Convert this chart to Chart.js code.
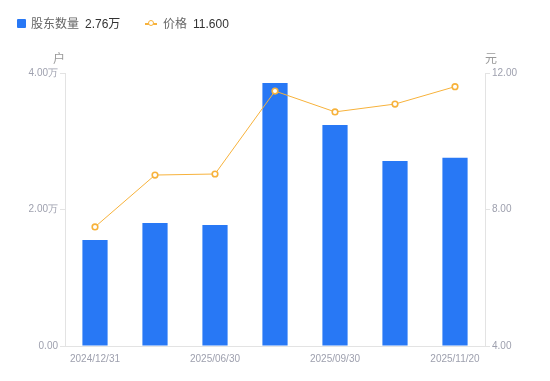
<!DOCTYPE html>
<html>
<head>
<meta charset="utf-8">
<script src="https://cdn.jsdelivr.net/npm/chart.js@4/dist/chart.umd.min.js"></script>
<style>
  body { margin: 0; background: #fff; font-family: "Liberation Sans", Arial, "Noto Sans CJK SC", sans-serif; }
  #wrap { position: relative; width: 550px; height: 381px; }
  #legend { position: absolute; left: 17px; top: 16px; font-size: 12px; color: #666; white-space: nowrap; }
  .item { position: absolute; top: 0; line-height: 17px; }
  .val { color: #333; margin-left: 6px; }
  .unit { position: absolute; font-size: 12px; color: #999; }
</style>
</head>
<body>
<div id="wrap">
  <canvas id="myChart" width="550" height="381"></canvas>
  <div id="legend"></div>
  <div class="unit" style="left:53px; top:49px;">户</div>
  <div class="unit" style="left:485px; top:49px;">元</div>
</div>
<script>
"use strict";

// 데이터
const dates = ['2024/12/31', '2025/03/31', '2025/06/30', '2025/08/20', '2025/09/30', '2025/10/31', '2025/11/20'];
const holders = [15530, 18020, 17730, 38530, 32380, 27110, 27600]; // 股东数量 (户)
const prices = [7.49, 9.01, 9.04, 11.47, 10.86, 11.09, 11.60];     // 价格 (元)
const leftTicks = [0, 20000, 40000];
const rightTicks = [4, 8, 12];

const barColor = '#2878f5';
const lineColor = '#f7b23b';
const tickColor = '#9ea0ae';
const axisColor = '#e3e3e3';

// 범례 (html)
function legend() {
  const last = holders.length - 1;
  document.getElementById('legend').innerHTML =
    '<div class="item" style="left:0">' +
      '<span style="display:inline-block;width:9px;height:9px;background:' + barColor + ';border-radius:1px;margin-right:5px;vertical-align:-0px"></span>' +
      '股东数量<span class="val">' + (holders[last] / 10000).toFixed(2) + '万</span></div>' +
    '<div class="item" style="left:128px">' +
      '<span style="display:inline-block;position:relative;width:12px;height:9px;margin-right:6px;vertical-align:0px">' +
        '<span style="position:absolute;left:0;top:4px;width:12px;height:1.5px;background:' + lineColor + '"></span>' +
        '<span style="position:absolute;left:3px;top:1px;width:4px;height:4px;border:1.5px solid ' + lineColor + ';border-radius:50%;background:#fff"></span>' +
      '</span>价格<span class="val">' + prices[last].toFixed(3) + '</span></div>';
}

function yFmt(v) {
  if (v === 0) return '0.00';
  return (v / 10000).toFixed(2) + '万';
}

const data = {
  labels: dates,
  datasets: [{
    type: 'line',
    label: '价格',
    data: prices,
    yAxisID: 'y1',
    borderColor: lineColor,
    borderWidth: 1,
    pointRadius: 2.8,
    pointBorderWidth: 1.6,
    pointBackgroundColor: '#fff',
    pointBorderColor: lineColor,
    tension: 0,
    order: 1
  }, {
    type: 'bar',
    label: '股东数量',
    data: holders,
    yAxisID: 'y',
    backgroundColor: barColor,
    borderWidth: 0,
    categoryPercentage: 1,
    barPercentage: 0.42,
    order: 2
  }]
};

const config = {
  data,
  options: {
    responsive: false,
    animation: false,
    layout: { padding: { top: 73, left: 0, right: 0, bottom: 0 } },
    plugins: { legend: { display: false }, tooltip: { enabled: false } },
    scales: {
      x: {
        grid: { display: false, drawTicks: false },
        border: { color: axisColor },
        ticks: {
          color: tickColor, font: { size: 10 }, padding: 7, maxRotation: 0, autoSkip: false,
          callback: function (v, i) { return i % 2 === 0 ? dates[i] : ''; }
        },
        afterFit: function (s) { s.height = 35; }
      },
      y: {
        position: 'left',
        min: 0, max: 40000,
        afterBuildTicks: function (s) { s.ticks = leftTicks.map(v => ({ value: v })); },
        grid: { drawOnChartArea: false, tickLength: 5, color: axisColor },
        border: { color: axisColor },
        ticks: { color: tickColor, font: { size: 10 }, padding: 2, callback: yFmt },
        afterFit: function (s) { s.width = 65; }
      },
      y1: {
        position: 'right',
        min: 4, max: 12,
        afterBuildTicks: function (s) { s.ticks = rightTicks.map(v => ({ value: v })); },
        grid: { drawOnChartArea: false, tickLength: 5, color: axisColor },
        border: { color: axisColor },
        ticks: { color: tickColor, font: { size: 10 }, padding: 2, callback: v => v.toFixed(2) },
        afterFit: function (s) { s.width = 65; }
      }
    }
  }
};

legend();
const myChart = new Chart(document.getElementById('myChart'), config);
</script>
</body>
</html>
